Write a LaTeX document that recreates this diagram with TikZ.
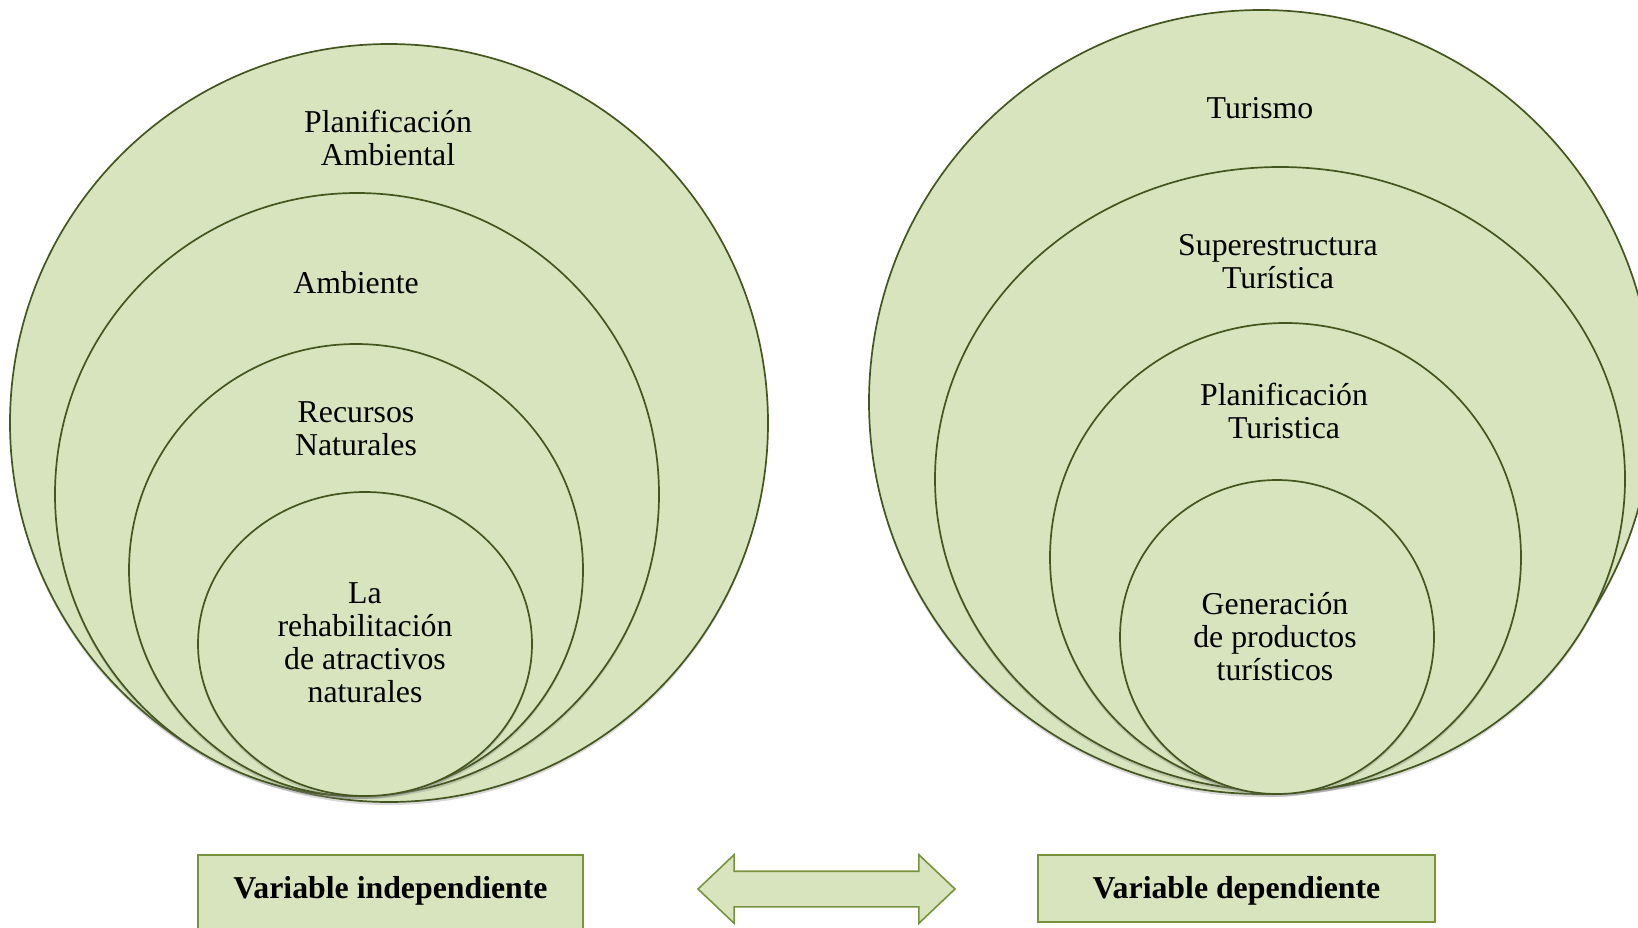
\documentclass[tikz,border=0pt]{standalone}
\usepackage{fontspec}
\setmainfont{Liberation Serif}
\usepackage{tikz}
\usetikzlibrary{shapes.geometric, shapes.arrows, shadows}
\usepackage{xcolor}
\definecolor{verde}{HTML}{D7E4BD}
\definecolor{borde}{HTML}{44561F}
\definecolor{bordecaja}{HTML}{77933C}
\tikzstyle{ring}=[ellipse, draw=borde, line width=1.7pt, fill=verde, inner sep=0pt,
  drop shadow={shadow xshift=0pt, shadow yshift=-3pt, opacity=0.3}]
\tikzstyle{rotulo}=[align=center, inner sep=0pt, font=\fontsize{31.8pt}{33pt}\selectfont]
\tikzstyle{caja}=[rectangle, draw=bordecaja, line width=1.6pt, fill=verde, inner sep=0pt,
  anchor=base, text height=23pt, text depth=4pt, minimum height=67pt,
  font=\bfseries\fontsize{31.8pt}{33pt}\selectfont]
\newcommand{\ring}{\node[ring]}
\newcommand{\rotulo}{\node[rotulo]}

\begin{document}
\begin{tikzpicture}[x=1pt, y=-1pt]
\useasboundingbox (0,0) rectangle (1638,927);
\clip (0,0) rectangle (1638,927);
\foreach \n/\x/\y/\w/\h in {pa/389/423/758/758, amb/357/494.5/604/603, rec/356/570/454/452, reh/365/644/334/304,
  tur/1261/402/784/784, sup/1280/479/690/624, pt/1285.5/557.5/471/469, gen/1277/637/314/314}{
	\ring (\n) at (\x,\y) [minimum width=\w pt, minimum height=\h pt]{};
	}
\foreach \n/\x/\y/\t in {tpa/388/137.5/{Planificación\\Ambiental}, tamb/356/283/{Ambiente},
  trec/356/429/{Recursos\\Naturales}, treh/365/643/{La\\rehabilitación\\de atractivos\\naturales},
  ttur/1260/108/{Turismo}, tsup/1278/262/{Superestructura\\Turística},
  tpt/1284/411/{Planificación\\Turistica}, tgen/1275/636.5/{Generación\\de productos\\turísticos}}{
	\rotulo (\n) at (\x,\y) {\t};
	}
\node[caja, minimum width=385pt, minimum height=80pt, text depth=17pt] (vi) at (390.5,898) {Variable independiente};
\node[caja, minimum width=397pt] (vd) at (1236.5,898) {Variable dependiente};
\node[double arrow, draw=bordecaja, fill=verde, line width=1.6pt, inner sep=0pt,
  text height=17pt, text depth=17pt, minimum height=257pt, minimum width=67pt,
  double arrow head extend=16.5pt, double arrow tip angle=87] (rel) at (826.5,889) {};
\end{tikzpicture}
\end{document}
